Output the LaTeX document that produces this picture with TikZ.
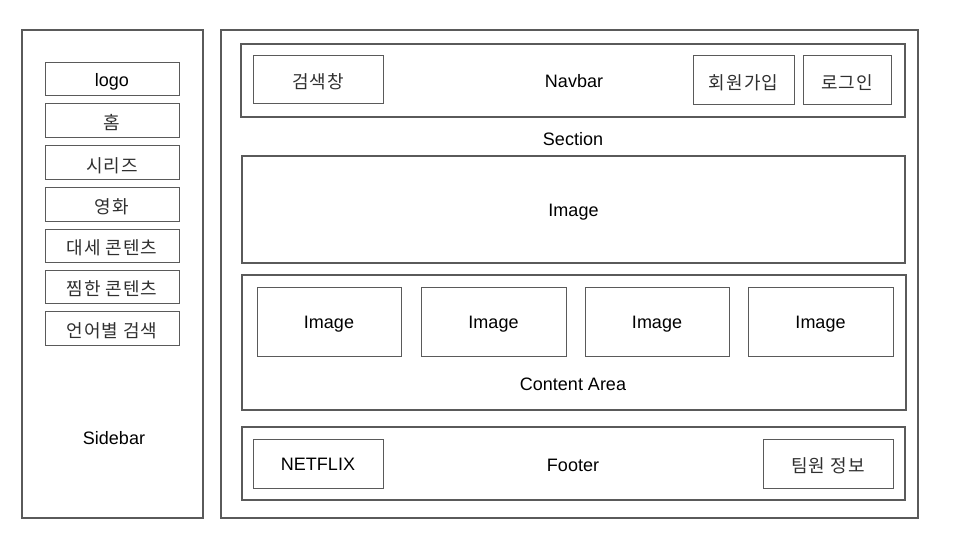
\documentclass[tikz,border=0pt]{standalone}
\usepackage{fontspec}
\setmainfont{Liberation Sans}
\newfontfamily\kr[LetterSpace=6]{Noto Sans CJK KR}
\definecolor{edge}{HTML}{5A5A5A}
\definecolor{krtext}{HTML}{303030}
\tikzset{
  outerbox/.style={draw=edge, line width=2.8pt, inner sep=0pt, outer sep=0pt},
  innerbox/.style={draw=edge, line width=1pt, inner sep=0pt, outer sep=0pt},
  lbl/.style={inner sep=0pt, text height=16pt, text depth=2pt},
}
\newcommand\krt[1]{\raisebox{-2pt}{\kr\color{krtext}#1}}
\newcommand\mybox[7]{%
  \node[#1, anchor=north west, minimum width={#4-#2}, minimum height={#5-#3}] (#6) at (#2,#3) {};
  \node[lbl] (#6-t) at (#6.center) {#7};}
\begin{document}
\begin{tikzpicture}[x=1pt, y=-1pt, font=\fontsize{18}{22}\selectfont]
\useasboundingbox[fill=white] (0,0) rectangle (960,540);
% sidebar
\mybox{outerbox}{22}{30}{203}{518}{sidebar}{}
\node[lbl] (sidebarlbl) at (114,437) {Sidebar};
\mybox{innerbox}{45}{63}{179}{96}{s1}{logo}
\mybox{innerbox}{45}{104}{179}{138}{s2}{\krt{홈}}
\mybox{innerbox}{45}{146}{179}{180}{s3}{\krt{시리즈}}
\mybox{innerbox}{45}{187}{179}{221}{s4}{\krt{영화}}
\mybox{innerbox}{45}{229}{179}{262}{s5}{\krt{대세 콘텐츠}}
\mybox{innerbox}{45}{270}{179}{303}{s6}{\krt{찜한 콘텐츠}}
\mybox{innerbox}{45}{311}{179}{345}{s7}{\krt{언어별 검색}}
% main
\mybox{outerbox}{221}{30}{918}{518}{main}{}
\node[lbl] (sectionlbl) at (573,139) {Section};
% navbar
\mybox{outerbox}{241}{44}{905}{117}{navbar}{}
\node[lbl] (navbarlbl) at (574,81) {Navbar};
\mybox{innerbox}{253}{56}{383}{104}{search}{\krt{검색창}}
\mybox{innerbox}{693}{56}{794}{105}{join}{\krt{회원가입}}
\mybox{innerbox}{803}{56}{891}{105}{login}{\krt{로그인}}
% hero image
\mybox{outerbox}{242}{156}{905}{263}{hero}{Image}
% content area
\mybox{outerbox}{242}{275}{906}{410}{content}{}
\node[lbl] (contentlbl) at (573,383) {Content Area};
\mybox{innerbox}{257}{287}{401}{356}{img1}{Image}
\mybox{innerbox}{421}{287}{566}{356}{img2}{Image}
\mybox{innerbox}{585}{287}{729}{356}{img3}{Image}
\mybox{innerbox}{748}{287}{893}{356}{img4}{Image}
% footer
\mybox{outerbox}{242}{427}{905}{500}{footer}{}
\node[lbl] (footerlbl) at (573,464) {Footer};
\mybox{innerbox}{253}{439}{383}{488}{netflix}{NETFLIX}
\mybox{innerbox}{763}{439}{893}{488}{team}{\krt{팀원 정보}}
\end{tikzpicture}
\end{document}
